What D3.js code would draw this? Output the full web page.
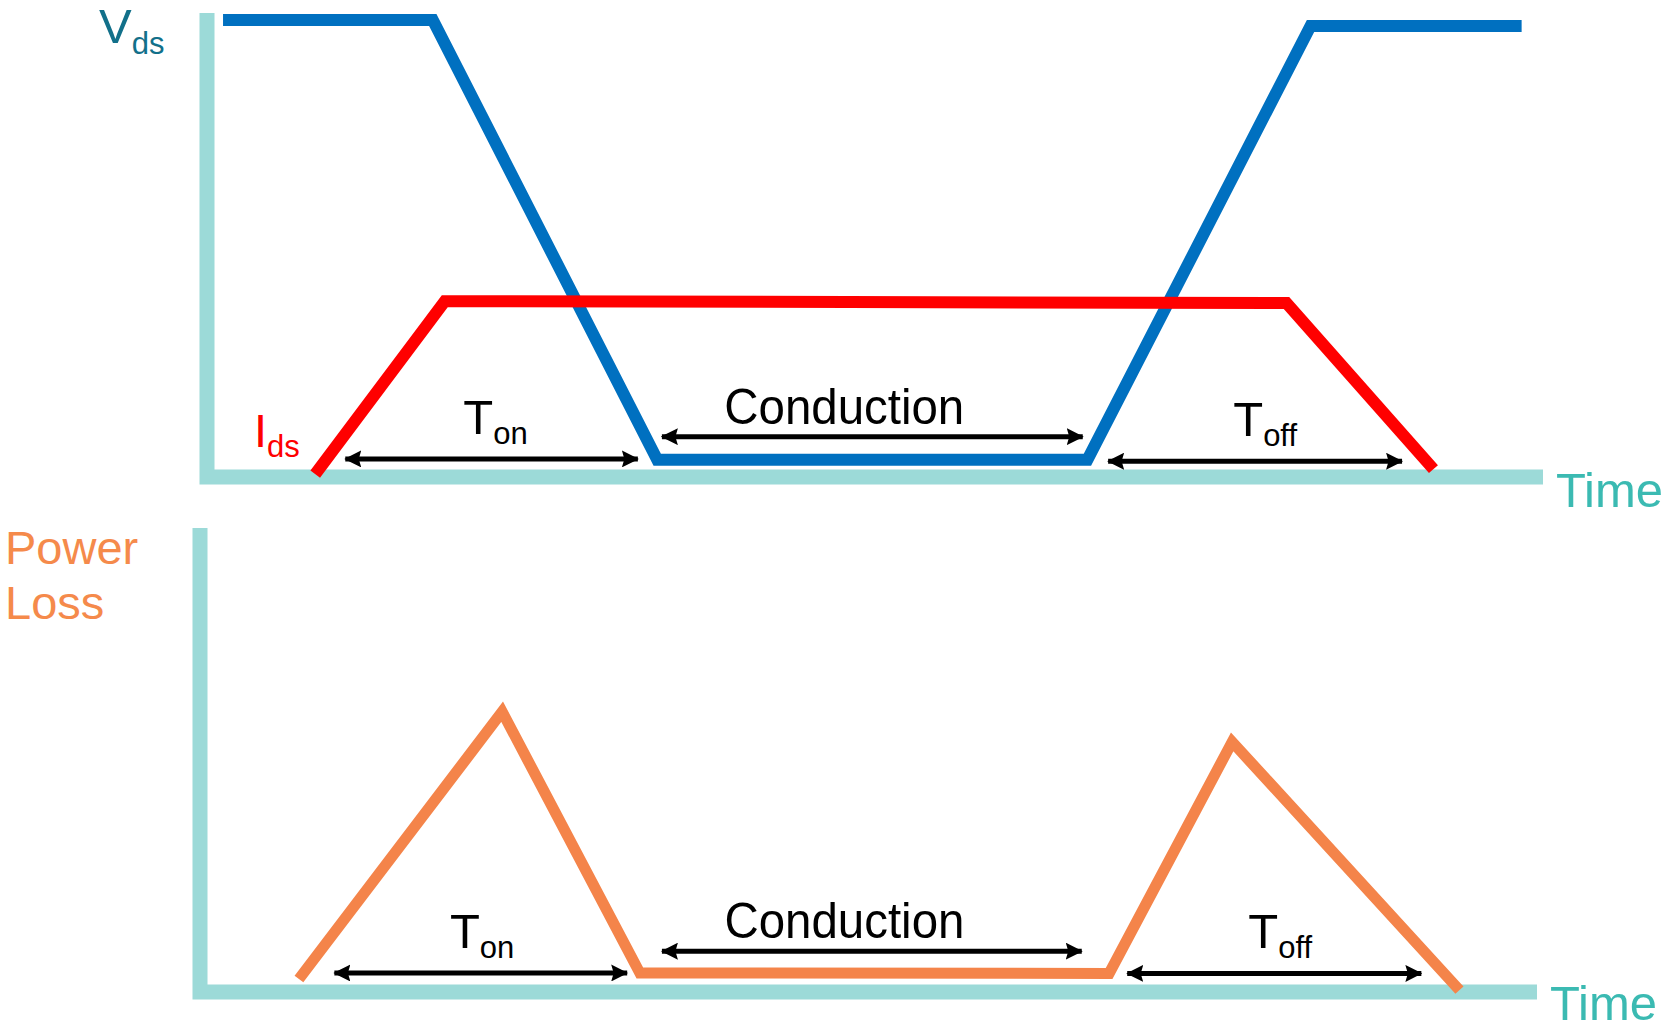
<!DOCTYPE html>
<html>
<head>
<meta charset="utf-8">
<script src="https://cdn.jsdelivr.net/npm/d3@7"></script>
<style>
  body { margin: 0; background: #fff; }
  svg { display: block; font-family: 'Liberation Sans', Arial, sans-serif; }
</style>
</head>
<body>
<svg id="chart" width="1665" height="1024"></svg>
<script>
/* ----------  DATA (time units 0-100, level 0-100)  ---------- */
const vdsT = [1.2, 16.9, 33.7, 65.9, 82.6, 98.4]
const vdsV = [98.5, 98.5, 3.7, 3.7, 97.2, 97.2]

const idsT = [8.1, 17.8, 80.8, 91.8]
const idsV = [0.6, 37.9, 37.5, 1.7]

const lossT = [7.4, 22.6, 32.9, 68.0, 77.2, 94.2]
const lossV = [2.8, 60.4, 4.1, 4.0, 53.9, 0.4]

// interval arrows: [label, sub, start, end, level, label centre]
const topSpans = [
  ['T', 'on', 10.2, 32.4, 3.9, 21.6],
  ['Conduction', '', 33.9, 65.7, 8.7, 47.7],
  ['T', 'off', 67.3, 89.6, 3.4, 79.2]
]
const bottomSpans = [
  ['T', 'on', 9.9, 32.1, 4.1, 21.1],
  ['Conduction', '', 34.4, 66.1, 8.8, 48.2],
  ['T', 'off', 69.2, 91.5, 4.0, 80.8]
]

/* ----------  SETUP  ---------- */
const svg = d3.select('#chart')
const AXIS = '#9cdad8'
const TIME_C = '#3bbab2'

const panels = [
  { x: d3.scaleLinear().domain([0, 100]).range([207, 1543]),
    y: d3.scaleLinear().domain([0, 100]).range([477, 13]) },
  { x: d3.scaleLinear().domain([0, 100]).range([200, 1537]),
    y: d3.scaleLinear().domain([0, 100]).range([992, 528]) }
]

const defs = svg.append('defs')
defs.append('marker')
  .attr('id', 'arrow')
  .attr('viewBox', '0 0 17 17')
  .attr('refX', 16)
  .attr('refY', 8.5)
  .attr('markerUnits', 'userSpaceOnUse')
  .attr('markerWidth', 17)
  .attr('markerHeight', 17)
  .attr('orient', 'auto-start-reverse')
  .append('path')
  .attr('d', 'M0,0 L17,8.5 L0,17 L2.5,8.5 Z')
  .attr('fill', '#000')

function drawAxes (p, timeLabelDy) {
  const [x0, x1] = p.x.range()
  const [y0, y1] = p.y.range()
  svg.append('path')
    .attr('d', `M${x0},${y1} L${x0},${y0} L${x1},${y0}`)
    .attr('fill', 'none')
    .attr('stroke', AXIS)
    .attr('stroke-width', 15)
    .attr('stroke-linejoin', 'miter')

  svg.append('text')
    .attr('x', x1 + 13)
    .attr('y', y0 + timeLabelDy)
    .attr('fill', TIME_C)
    .style('font-size', '49px')
    .text('Time')
}

function drawLine (p, ts, vs, color, w) {
  const pts = ts.map((t, i) => [t, vs[i]])
  svg.append('path')
    .datum(pts)
    .attr('fill', 'none')
    .attr('stroke', color)
    .attr('stroke-width', w)
    .attr('stroke-linejoin', 'miter')
    .attr('stroke-linecap', 'butt')
    .attr('d', d3.line().x(d => p.x(d[0])).y(d => p.y(d[1])))
}

function drawSpans (p, spans) {
  spans.forEach(([lab, sub, t0, t1, lvl, tc]) => {
    const yy = p.y(lvl)
    svg.append('line')
      .attr('x1', p.x(t0) + 2)
      .attr('x2', p.x(t1) - 2)
      .attr('y1', yy)
      .attr('y2', yy)
      .attr('stroke', '#000')
      .attr('stroke-width', 5)
      .attr('marker-start', 'url(#arrow)')
      .attr('marker-end', 'url(#arrow)')

    if (sub) {
      const t = svg.append('text')
        .attr('x', p.x(tc))
        .attr('y', yy - 25)
        .attr('text-anchor', 'middle')
        .attr('fill', '#000')
        .style('font-size', '49px')
      t.append('tspan').text(lab)
      t.append('tspan')
        .attr('dy', 10)
        .style('font-size', '31px')
        .text(sub)
    } else {
      svg.append('text')
        .attr('x', p.x(tc))
        .attr('y', yy - 13)
        .attr('text-anchor', 'middle')
        .attr('fill', '#000')
        .attr('textLength', 240)
        .attr('lengthAdjust', 'spacingAndGlyphs')
        .style('font-size', '50px')
        .text(lab)
    }
  })
}

/* ----------  TOP PANEL  ---------- */
const topPanel = panels[0]
drawAxes(topPanel, 30)
drawLine(topPanel, vdsT, vdsV, '#0070c0', 12)
drawLine(topPanel, idsT, idsV, '#ff0000', 12)
drawSpans(topPanel, topSpans)

const vLab = svg.append('text')
  .attr('x', 99)
  .attr('y', 43)
  .attr('fill', '#12708a')
  .style('font-size', '49px')
vLab.append('tspan').text('V')
vLab.append('tspan').attr('dy', 11).style('font-size', '31px').text('ds')

const iLab = svg.append('text')
  .attr('x', 254)
  .attr('y', 447)
  .attr('fill', '#ff0000')
  .style('font-size', '47px')
iLab.append('tspan').text('I')
iLab.append('tspan').attr('dy', 10).style('font-size', '31px').text('ds')

/* ----------  BOTTOM PANEL  ---------- */
const botPanel = panels[1]
drawAxes(botPanel, 28)
drawLine(botPanel, lossT, lossV, '#f4844a', 11)
drawSpans(botPanel, bottomSpans)

svg.append('text')
  .attr('x', 5)
  .attr('y', 564)
  .attr('fill', '#f58a4b')
  .style('font-size', '47px')
  .text('Power')
svg.append('text')
  .attr('x', 5)
  .attr('y', 619)
  .attr('fill', '#f58a4b')
  .style('font-size', '47px')
  .text('Loss')
</script>
</body>
</html>
